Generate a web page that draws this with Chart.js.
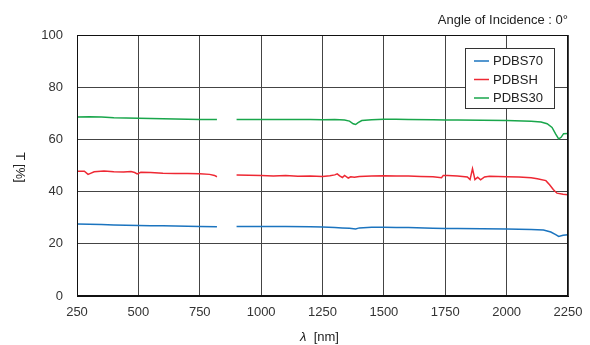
<!DOCTYPE html>
<html>
<head>
<meta charset="utf-8">
<script src="https://cdn.jsdelivr.net/npm/chart.js@4/dist/chart.umd.min.js"></script>
<style>
html,body{margin:0;padding:0;background:#fff;}
#wrap{width:590px;height:345px;position:relative;}
</style>
</head>
<body>
<div id="wrap"><canvas id="c" width="590" height="345"></canvas></div>
<script>
const seriesNames = ["PDBS70", "PDBSH", "PDBS30"];
const seriesColors = ["#1b74bf", "#ee2833", "#19a64b"];

const wlBlue = [250,300,350,400,450,500,550,600,650,700,750,820,860,900,1000,1100,1200,1250,1300,1330,1360,1385,1400,1450,1500,1550,1600,1700,1750,1800,1900,2000,2100,2150,2180,2200,2212,2230,2250];
const tBlue  = [27.6,27.5,27.4,27.2,27.1,27.0,26.9,26.9,26.8,26.7,26.6,26.5,null,26.6,26.6,26.6,26.5,26.4,26.2,26.1,26.0,25.7,26.1,26.3,26.3,26.2,26.2,26.0,25.9,25.9,25.8,25.7,25.5,25.3,24.5,23.5,22.8,23.3,23.5];

const wlRed = [250,280,295,305,320,360,400,440,470,485,495,510,550,600,650,700,750,790,810,820,860,900,950,1000,1050,1100,1150,1200,1250,1280,1300,1310,1320,1331,1340,1355,1365,1380,1400,1450,1500,1550,1600,1650,1700,1735,1742,1760,1800,1840,1851,1861,1871,1882,1894,1910,1930,2000,2050,2100,2125,2160,2175,2190,2205,2230,2250];
const tRed  = [47.8,47.8,46.6,47.0,47.6,47.9,47.6,47.5,47.7,47.3,46.8,47.4,47.3,47.0,46.9,46.9,46.8,46.6,46.2,45.7,null,46.4,46.3,46.2,46.0,46.2,45.9,46.0,45.8,46.1,46.4,46.8,46.0,45.4,46.2,45.2,45.7,45.5,45.8,46.0,46.1,46.0,46.0,45.8,45.7,45.3,46.2,46.2,46.0,45.6,44.6,48.8,44.6,45.5,44.5,45.6,45.9,45.7,45.6,45.3,44.9,44.2,42.6,40.8,39.4,39.0,38.8];

const wlGreen = [250,300,350,400,450,500,550,600,650,700,750,820,860,900,1000,1100,1200,1250,1300,1340,1360,1375,1385,1395,1410,1450,1500,1550,1600,1700,1750,1800,1900,2000,2100,2140,2165,2185,2200,2212,2222,2232,2250];
const tGreen  = [68.6,68.7,68.6,68.3,68.2,68.1,68.0,67.9,67.8,67.7,67.6,67.6,null,67.6,67.6,67.6,67.6,67.5,67.6,67.4,67.0,66.0,65.7,66.4,67.2,67.5,67.7,67.7,67.6,67.5,67.4,67.4,67.3,67.2,67.0,66.7,66.0,64.6,62.0,60.2,60.8,62.2,62.3];

const xTicks = [250,500,750,1000,1250,1500,1750,2000,2250];
const yTicks = [0,20,40,60,80,100];

const toPts = (xs, ys) => xs.map((x, i) => ({x: x, y: ys[i]}));
const FONT = "'Liberation Sans', Arial, sans-serif";

const decor = {
  id: 'decor',
  afterDraw(chart) {
    const ctx = chart.ctx;
    const ca = chart.chartArea;
    ctx.save();
    ctx.fillStyle = '#222';
    ctx.font = '13px ' + FONT;
    ctx.textAlign = 'right';
    ctx.textBaseline = 'middle';
    ctx.fillText('Angle of Incidence : 0°', ca.right, 20);
    const lx = 465, ly = 48, lw = 89, lh = 60;
    ctx.fillStyle = '#fff';
    ctx.fillRect(lx, ly, lw, lh);
    ctx.strokeStyle = '#333';
    ctx.lineWidth = 1;
    ctx.strokeRect(lx + 0.5, ly + 0.5, lw, lh);
    chart.data.datasets.forEach((ds, i) => {
      const y = ly + 13 + i * 18.5;
      ctx.strokeStyle = ds.borderColor;
      ctx.lineWidth = 1.5;
      ctx.beginPath();
      ctx.moveTo(474, y);
      ctx.lineTo(489, y);
      ctx.stroke();
      ctx.fillStyle = '#222';
      ctx.textAlign = 'left';
      ctx.font = '13px ' + FONT;
      ctx.fillText(ds.label, 493, y + 0.5);
    });
    ctx.save();
    ctx.translate(20, (ca.top + ca.bottom) / 2 + 2);
    ctx.rotate(Math.PI / 2);
    ctx.fillStyle = '#222';
    ctx.textAlign = 'center';
    ctx.textBaseline = 'middle';
    ctx.font = '13px ' + FONT;
    ctx.fillText('T [%]', 0, 0);
    ctx.restore();
    ctx.font = 'italic 13px ' + FONT;
    const w1 = ctx.measureText('λ').width;
    ctx.font = '13px ' + FONT;
    const w2 = ctx.measureText('  [nm]').width;
    const cx = (ca.left + ca.right) / 2 - 3;
    let sx = cx - (w1 + w2) / 2;
    ctx.textAlign = 'left';
    ctx.textBaseline = 'middle';
    ctx.fillStyle = '#222';
    ctx.font = 'italic 13px ' + FONT;
    ctx.fillText('λ', sx, 337);
    ctx.font = '13px ' + FONT;
    ctx.fillText('  [nm]', sx + w1, 337);
    ctx.restore();
  }
};

new Chart(document.getElementById('c'), {
  type: 'line',
  data: {
    datasets: [
      {label: seriesNames[0], data: toPts(wlBlue, tBlue), borderColor: seriesColors[0]},
      {label: seriesNames[1], data: toPts(wlRed, tRed), borderColor: seriesColors[1]},
      {label: seriesNames[2], data: toPts(wlGreen, tGreen), borderColor: seriesColors[2]}
    ].map(d => Object.assign(d, {borderWidth: 1.5, pointRadius: 0, tension: 0, spanGaps: false, fill: false}))
  },
  options: {
    responsive: false,
    animation: false,
    layout: {padding: {left: 0, top: 35, right: 22, bottom: 0}},
    plugins: {legend: {display: false}, tooltip: {enabled: false}},
    scales: {
      x: {
        type: 'linear', min: 250, max: 2250,
        afterBuildTicks: s => { s.ticks = xTicks.map(v => ({value: v})); },
        afterFit: s => { s.height = 49; s.paddingRight = 0; s.paddingLeft = 0; },
        grid: {color: '#444', lineWidth: 1, drawTicks: false},
        border: {color: '#111', width: 1},
        ticks: {color: '#333', font: {family: FONT, size: 13}, padding: 9, maxRotation: 0, callback: v => String(v)}
      },
      y: {
        min: 0, max: 100,
        afterBuildTicks: s => { s.ticks = yTicks.map(v => ({value: v})); },
        afterFit: s => { s.width = 77; },
        grid: {color: '#444', lineWidth: 1, drawTicks: false},
        border: {color: '#111', width: 1},
        ticks: {color: '#333', font: {family: FONT, size: 13}, padding: 14, callback: v => String(v)}
      }
    }
  },
  plugins: [decor, {
    id: 'frame',
    afterDatasetsDraw(chart) {
      const ctx = chart.ctx, ca = chart.chartArea;
      ctx.save();
      ctx.strokeStyle = '#111';
      ctx.lineWidth = 1;
      ctx.strokeRect(Math.round(ca.left) + 0.5, Math.round(ca.top) + 0.5, Math.round(ca.right - ca.left) - 1, Math.round(ca.bottom - ca.top) - 1);
      ctx.restore();
    }
  }]
});
</script>
</body>
</html>
